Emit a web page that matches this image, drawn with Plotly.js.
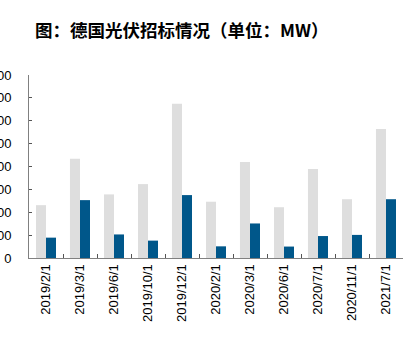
<!DOCTYPE html>
<html><head><meta charset="utf-8">
<script src="https://cdn.plot.ly/plotly-3.0.1.min.js"></script>
<style>html,body{margin:0;padding:0;background:#fff}#c{width:415px;height:353px}</style>
</head><body><div id="c"></div>
<script>
var categories = ["2019/2/1","2019/3/1","2019/6/1","2019/10/1","2019/12/1","2020/2/1","2020/3/1","2020/6/1","2020/7/1","2020/11/1","2021/7/1"];
var seriesA = [231, 434, 278, 323, 674, 246, 420, 222, 389, 257, 564];
var seriesB = [89, 253, 103, 76, 275, 51, 151, 50, 96, 101, 257];
var yTicks = [0,100,200,300,400,500,600,700,800];

var traces = [
  {type:'bar', x:categories, y:seriesA, marker:{color:'#DEDEDE'}, name:'A', hoverinfo:'none'},
  {type:'bar', x:categories, y:seriesB, marker:{color:'#00578A'}, name:'B', hoverinfo:'none'}
];
var layout = {
  width:415, height:353,
  margin:{l:29, r:12, t:75, b:95},
  paper_bgcolor:'#fff', plot_bgcolor:'#fff',
  showlegend:false,
  barmode:'group', bargap:0.41, bargroupgap:0,
  font:{family:'"Liberation Sans", Arial, sans-serif', color:'#000'},
  title:{text:'图：德国光伏招标情况（单位：MW）', x:0, xref:'paper', xanchor:'left', y:1, yref:'container', yanchor:'top', pad:{t:25,l:6},
         font:{family:'"Noto Sans CJK SC", sans-serif', size:17.5, color:'#000', weight:'bold'}},
  xaxis:{type:'category', showgrid:false, zeroline:false, showline:true, linecolor:'#808080', linewidth:1,
         ticks:'inside', ticklen:4, tickcolor:'#555', tickson:'boundaries',
         tickangle:-90, tickfont:{size:13, color:'#000'}},
  yaxis:{range:[0,800], tickvals:yTicks, ticktext:yTicks.map(String), showgrid:false, zeroline:false,
         showline:true, linecolor:'#808080', linewidth:1, ticks:'inside', ticklen:3, tickcolor:'#555',
         tickfont:{size:13, color:'#000'}, ticklabelstandoff:14}
};
Plotly.newPlot('c', traces, layout, {displayModeBar:false, staticPlot:true});
</script></body></html>
